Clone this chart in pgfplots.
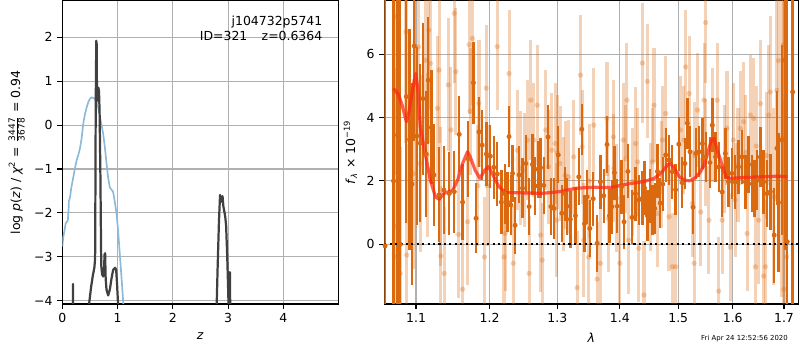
\documentclass[border=0pt]{standalone}
\usepackage{pgfplots}
\pgfplotsset{compat=1.18}
\usepackage{pgfplotstable}
\usepackage{fontspec}
\setmainfont{DejaVu Sans}
\definecolor{darkor}{RGB}{218,105,15}
\definecolor{pzblue}{RGB}{140,185,218}
\definecolor{pzblack}{RGB}{64,64,64}
\definecolor{gridc}{RGB}{176,176,176}
\definecolor{modelred}{RGB}{255,40,20}

\pgfplotstableread{
x y e
1.0604 -0.05 12
1.0711 2.00 10
1.0762 3.45 8
1.0797 0.00 8
1.0874 4.66 4.0
1.0916 3.31 3.5
1.0947 1.90 3.2
1.0977 6.26 3.0
1.1010 3.42 2.8
1.1055 3.19 2.5
1.1091 4.60 2.4
1.1132 2.85 2.0
1.1160 5.18 2.0
1.1201 3.69 1.8
1.1236 2.19 1.6
1.1304 1.56 1.5
1.1368 1.71 1.4
1.1441 1.60 1.3
1.1509 1.66 1.3
1.1577 3.47 1.2
1.1623 1.33 1.2
1.1700 2.70 1.2
1.1773 5.10 1.3
1.1809 0.82 1.1
1.1850 3.55 1.1
1.1896 3.13 1.1
1.1955 2.85 1.0
1.2010 2.78 1.0
1.2059 2.43 1.0
1.2109 2.22 1.0
1.2168 1.33 1.0
1.2216 1.60 0.95
1.2256 1.34 0.95
1.2279 3.40 0.95
1.2304 1.24 0.95
1.2330 2.24 0.9
1.2368 0.60 0.9
1.2427 2.19 0.9
1.2477 1.77 0.95
1.2525 2.55 0.9
1.2574 1.19 0.9
1.2624 2.52 0.95
1.2662 1.84 0.9
1.2706 2.37 0.9
1.2746 2.42 0.95
1.2794 1.86 0.9
1.2859 3.39 1.0
1.2903 1.19 0.9
1.2951 1.13 0.95
1.3016 2.82 0.9
1.3070 0.98 0.9
1.3123 1.60 0.85
1.3150 1.20 0.9
1.3203 0.79 0.9
1.3282 0.90 0.9
1.3335 2.13 0.9
1.3383 3.63 0.8
1.3426 0.65 0.9
1.3469 1.50 0.85
1.3510 0.50 0.9
1.3565 1.44 0.85
1.3628 0.03 0.9
1.3681 1.97 0.85
1.3734 1.53 0.85
1.3788 3.15 0.9
1.3829 0.90 0.85
1.3868 1.19 0.85
1.3909 2.26 0.85
1.3957 1.20 0.85
1.4029 1.82 0.85
1.4069 0.71 0.85
1.4133 2.30 0.85
1.4203 0.85 0.85
1.4260 1.60 0.85
1.4317 1.40 0.8
1.4376 1.45 0.85
1.4416 1.77 0.85
1.4463 0.90 0.8
1.4503 1.53 0.85
1.4549 1.08 0.8
1.4589 1.13 0.8
1.4636 2.30 0.85
1.4685 1.30 0.8
1.4728 1.90 0.85
1.4780 2.82 0.85
1.4837 2.66 0.8
1.4896 2.29 0.85
1.4953 1.72 0.8
1.5011 3.16 0.85
1.5073 1.94 0.8
1.5120 2.55 0.8
1.5164 3.82 0.8
1.5211 2.92 0.8
1.5265 1.17 0.85
1.5315 2.87 0.8
1.5375 2.92 0.8
1.5436 3.18 0.8
1.5496 2.76 0.8
1.5574 2.58 0.8
1.5618 3.76 0.85
1.5678 2.76 0.8
1.5738 2.44 0.8
1.5800 1.65 0.8
1.5860 2.87 0.8
1.5920 1.97 0.8
1.5982 2.24 0.8
1.6045 1.97 0.85
1.6109 2.44 0.85
1.6175 2.76 0.85
1.6240 1.97 0.85
1.6304 2.52 0.9
1.6370 1.91 0.9
1.6415 1.76 0.9
1.6468 2.02 0.95
1.6532 2.76 0.95
1.6596 1.97 1.0
1.6663 1.60 1.05
1.6727 1.66 1.2
1.6805 0.29 1.5
1.6858 3.03 1.8
1.6889 1.32 2.2
1.6955 3.29 3.0
1.7020 5.81 6
1.7066 0.08 10
1.7175 4.81 10
}\darktab

\pgfplotstableread{
x y e
1.0733 7.18 5
1.0745 0.57 5
1.0758 -0.39 4.5
1.0797 -0.92 4
1.0870 6.71 3.5
1.0880 -0.34 3.5
1.0965 2.23 3
1.1031 6.23 3
1.1055 2.55 2.8
1.1123 5.81 2.6
1.1146 2.82 2.6
1.1168 6.76 2.5
1.1191 5.71 2.5
1.1282 4.29 2.3
1.1304 5.50 2.3
1.1317 1.50 2.2
1.1327 -0.37 2.2
1.1372 -0.92 2.1
1.1426 5.03 2.1
1.1463 3.61 2.0
1.1509 7.29 2.2
1.1532 5.45 2.0
1.1568 0.31 2.0
1.1623 -1.42 2.0
1.1692 0.71 2.0
1.1713 6.30 2.2
1.1727 4.20 2.0
1.1760 6.50 2.1
1.1836 1.85 1.9
1.1850 4.45 2.0
1.1928 -0.40 1.9
1.1951 4.93 2.0
1.1964 1.85 1.9
1.2109 6.24 2.0
1.2206 -0.40 1.9
1.2224 0.34 1.8
1.2279 5.39 2.0
1.2341 -0.60 1.8
1.2403 2.97 1.9
1.2450 2.40 1.8
1.2500 2.34 1.8
1.2550 3.29 1.9
1.2574 -0.92 1.8
1.2599 4.55 1.9
1.2647 3.29 1.8
1.2697 4.39 1.9
1.2746 0.29 1.8
1.2771 -0.50 1.8
1.2824 3.61 1.9
1.2868 2.45 1.8
1.2918 2.97 1.8
1.2966 3.18 1.9
1.2991 0.76 1.8
1.3000 2.90 1.8
1.3043 2.55 1.8
1.3096 1.60 1.8
1.3123 2.18 1.7
1.3175 2.13 1.8
1.3255 2.76 1.8
1.3309 -1.37 1.8
1.3362 5.34 1.9
1.3389 3.08 1.8
1.3414 0.13 1.8
1.3494 -0.40 1.8
1.3500 2.00 1.8
1.3574 3.76 1.8
1.3628 -1.10 1.8
1.3681 -0.60 1.7
1.3788 3.97 1.8
1.3813 0.81 1.7
1.3893 3.39 1.8
1.3900 2.40 1.7
1.3947 1.45 1.7
1.4000 -0.60 1.7
1.4057 3.29 1.8
1.4100 2.70 1.7
1.4116 4.55 1.8
1.4144 0.13 1.7
1.4203 1.97 1.7
1.4260 3.18 1.8
1.4300 2.60 1.7
1.4317 -0.13 1.7
1.4376 5.72 1.9
1.4404 -1.60 1.7
1.4463 5.14 1.8
1.4520 1.50 1.7
1.4550 2.60 1.7
1.4577 4.39 1.8
1.4636 0.97 1.7
1.4700 2.20 1.7
1.4723 3.29 1.7
1.4780 4.13 1.8
1.4837 0.87 1.7
1.4896 -0.71 1.7
1.4953 -0.71 1.7
1.5042 3.61 1.7
1.5102 3.29 1.7
1.5133 5.60 1.8
1.5193 4.76 1.8
1.5255 1.29 1.7
1.5284 -0.60 1.7
1.5300 2.80 1.7
1.5346 4.24 1.8
1.5405 1.02 1.7
1.5465 4.55 1.8
1.5496 7.00 1.9
1.5500 2.90 1.7
1.5556 0.76 1.7
1.5618 3.76 1.8
1.5709 4.55 1.8
1.5738 -1.48 1.7
1.5800 0.76 1.7
1.5850 2.70 1.7
1.5891 3.66 1.8
1.5951 -0.09 1.7
1.6012 3.29 1.8
1.6045 1.40 1.8
1.6100 2.50 1.8
1.6142 3.66 1.8
1.6207 3.87 1.9
1.6250 2.90 1.8
1.6273 0.34 1.8
1.6337 4.08 1.9
1.6401 3.97 1.9
1.6434 -0.71 1.9
1.6450 3.10 1.9
1.6499 0.76 2.0
1.6532 4.44 2.0
1.6596 -1.00 2.0
1.6629 -0.71 2.1
1.6650 2.80 2.0
1.6693 4.08 2.2
1.6727 4.81 2.4
1.6791 1.50 2.8
1.6858 4.86 3.5
1.6889 5.80 4
1.6955 3.34 5
1.6986 6.30 6
1.6996 -1.42 6
1.7054 -0.40 8
}\lighttab

\pgfplotsset{
  mpl/.style={
    scale only axis, anchor=south west, height=3.033in,
    axis line style={line width=0.8bp},
    grid=major, major grid style={draw=gridc, line width=0.8bp},
    tick align=outside, major tick length=3.5bp,
    tick style={black, line width=0.8bp},
    tick pos=left, minor tick num=0,
    tick label style={font=\fontsize{9}{10}\selectfont},
    label style={font=\fontsize{9}{10}\selectfont},
  }
}

\begin{document}
\begin{tikzpicture}
\path[use as bounding box] (0,0) rectangle (8in,3.5in);

\begin{axis}[mpl,
  at={(0.623in,0.46in)}, width=2.76in,
  xmin=0, xmax=4.995, ymin=-4.076, ymax=2.834,
  xtick={0,1,2,3,4}, xticklabels={0,1,2,3,4},
  ytick={-4,-3,-2,-1,0,1,2}, yticklabels={−4,−3,−2,−1,0,1,2},
  xlabel={\textit{z}},
  ylabel={log \textit{p}(\textit{z}) / \textit{χ}\textsuperscript{2} = $\frac{\mbox{\fontsize{6.5}{7}\selectfont 3447}}{\mbox{\fontsize{6.5}{7}\selectfont 3678}}$ = 0.94},
]
\addplot[pzblue, line width=1.2bp, line join=round] coordinates {
(0,-2.77) (0.018,-2.55) (0.04,-2.40) (0.06,-2.25) (0.08,-2.20) (0.10,-2.18)
(0.115,-1.90) (0.12,-1.72) (0.14,-1.65) (0.16,-1.45) (0.20,-1.18) (0.23,-0.98)
(0.26,-0.80) (0.29,-0.68) (0.32,-0.53) (0.35,-0.30) (0.38,0.04) (0.41,0.25)
(0.44,0.40) (0.47,0.52) (0.50,0.60) (0.53,0.63) (0.56,0.62) (0.59,0.60)
(0.62,0.52) (0.65,0.40) (0.68,0.20) (0.71,0.00) (0.74,-0.20) (0.77,-0.50)
(0.80,-0.87) (0.83,-1.20) (0.86,-1.42) (0.89,-1.47) (0.92,-1.52) (0.95,-1.75)
(0.98,-2.00) (1.01,-2.40) (1.04,-2.92) (1.07,-3.45) (1.10,-3.98) (1.11,-4.2)
};
\addplot[pzblack, line width=1.6bp, line join=round] coordinates {
(0.190,-4.3) (0.193,-3.62) (0.198,-4.3)
};
\addplot[pzblack, line width=1.6bp, line join=round] coordinates {
(0.47,-4.3) (0.49,-4.02) (0.52,-3.70) (0.55,-3.45) (0.58,-3.25) (0.59,-3.10)
(0.595,-2.90) (0.605,0.50) (0.615,1.92) (0.622,1.85) (0.628,0.60) (0.635,0.85)
(0.645,0.55) (0.655,0.85) (0.665,0.75) (0.675,0.30) (0.69,-1.20) (0.70,-2.60)
(0.705,-3.20) (0.72,-3.40) (0.74,-3.45) (0.755,-3.30) (0.765,-2.95) (0.775,-2.92)
(0.785,-3.50) (0.80,-3.75) (0.83,-3.88) (0.86,-3.75) (0.89,-3.50) (0.92,-3.30)
(0.955,-3.25) (0.975,-3.30) (0.99,-3.60) (1.01,-4.10) (1.02,-4.3)
};
\addplot[pzblack, line width=1.6bp, line join=round] coordinates {
(2.79,-4.3) (2.81,-3.30) (2.835,-2.20) (2.855,-1.59) (2.87,-1.75) (2.885,-1.65)
(2.90,-1.62) (2.915,-1.85) (2.93,-1.95) (2.95,-2.10) (2.965,-2.30) (2.985,-3.00)
(3.005,-3.90) (3.01,-4.3)
};
\addplot[pzblack, line width=1.6bp, line join=round] coordinates {
(3.025,-4.3) (3.033,-3.35) (3.04,-4.3)
};
\node[anchor=north east, align=right, font=\fontsize{9}{10.5}\selectfont, inner sep=0pt]
  at (rel axis cs:0.943,0.95) {j104732p5741\\ID=321\hspace{1.15em}z=0.6364};
\end{axis}

\begin{axis}[mpl,
  at={(3.843in,0.46in)}, width=4.14in,
  xmode=log, xmin=1.0595, xmax=1.729, ymin=-1.885, ymax=7.69,
  xtick={1.1,1.2,1.3,1.4,1.5,1.6,1.7},
  xticklabels={1.1,1.2,1.3,1.4,1.5,1.6,1.7},
  minor xtick={},
  ytick={0,2,4,6}, yticklabels={0,2,4,6},
  xlabel={\textit{λ}},
  ylabel={\textit{f}\textsubscript{\textit{λ}} × 10\textsuperscript{−19}},
]
\addplot[only marks, mark=*, mark size=1.9bp,
  mark options={fill=darkor, fill opacity=0.3, draw opacity=0},
  error bars/.cd, y dir=both, y explicit, error mark=none,
  error bar style={draw=darkor, line width=2.2bp, draw opacity=0.3}]
  table[x=x, y=y, y error=e] {\lighttab};
\addplot[only marks, mark=*, mark size=1.8bp,
  mark options={fill=darkor, draw opacity=0},
  error bars/.cd, y dir=both, y explicit, error mark=none,
  error bar style={draw=darkor, line width=1.7bp}]
  table[x=x, y=y, y error=e] {\darktab};
\addplot[modelred, line width=2.3bp, opacity=0.75, line join=round] coordinates {
(1.0711,4.92) (1.0775,4.72) (1.082,4.40) (1.0875,3.87) (1.091,4.20) (1.095,4.80)
(1.0995,5.39) (1.1025,4.90) (1.1055,3.71) (1.112,2.87) (1.1187,2.03) (1.1255,1.50)
(1.1304,1.42) (1.1372,1.61) (1.1487,1.70) (1.1555,2.03) (1.1623,2.55) (1.169,2.92)
(1.1727,2.77) (1.1796,2.34) (1.1864,2.08) (1.1932,2.34) (1.1986,2.45) (1.2035,2.24)
(1.2132,1.82) (1.2231,1.63) (1.2353,1.63) (1.253,1.62) (1.278,1.61) (1.303,1.66)
(1.33,1.77) (1.357,1.80) (1.384,1.79) (1.412,1.90) (1.44,1.98) (1.458,2.08)
(1.472,2.29) (1.481,2.50) (1.486,2.56) (1.493,2.40) (1.502,2.13) (1.511,2.03)
(1.52,2.00) (1.529,2.08) (1.538,2.24) (1.547,2.50) (1.554,2.92) (1.56,3.29)
(1.565,3.34) (1.571,2.97) (1.579,2.56) (1.588,2.11) (1.597,2.08) (1.622,2.11)
(1.655,2.13) (1.688,2.15) (1.7066,2.13)
};
\addplot[black, line width=1.5bp, dash pattern=on 1.5bp off 2.4bp] coordinates {(1.0595,0) (1.729,0)};
\end{axis}

\node[anchor=east, font=\fontsize{5}{6}\selectfont, inner sep=0pt] at (7.88in,0.11in) {Fri Apr 24 12:52:56 2020};
\end{tikzpicture}
\end{document}
